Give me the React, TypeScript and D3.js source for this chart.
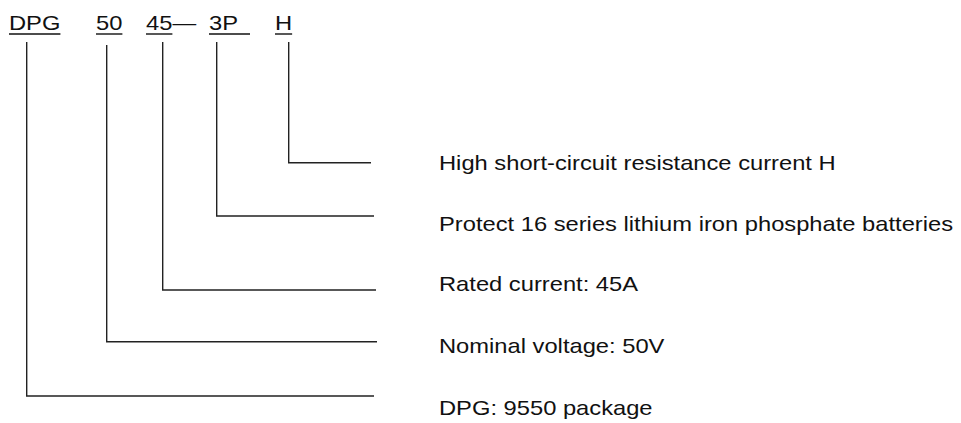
import React from "react";
import * as d3 from "d3";

const codes = ["DPG", "50", "45", "3P", "H"];
const codeText = ["DPG", "50", "45—", "3P", "H"];
const underlineEm = [2.167, 1.112, 1.112, 1.779, 0.722];
const descriptions = [
  "DPG: 9550 package",
  "Nominal voltage: 50V",
  "Rated current: 45A",
  "Protect 16 series lithium iron phosphate batteries",
  "High short-circuit resistance current H",
];

const W = 961;
const H = 423;
const FONT = "'Liberation Sans', Arial, Helvetica, sans-serif";
const FS = 21;
const SX = 1.13;

// layout
const codeX = [9, 96, 146, 209, 275];
const stemX = [26.7, 106.7, 162.7, 216.7, 288.7];
const stemTop = [42, 45, 42, 42, 42];
const rowY = [396, 341.7, 290, 216, 162.7];
const rowEnd = [374, 377, 376, 374, 371];
const descY = [415, 353, 291, 231, 170];

export default function App() {
  const em = FS * SX;
  const yRows = d3.scaleLinear().domain([0, 1]).range([0, 1]);
  return (
    <svg width={W} height={H} style={{ position: "absolute", left: 0, top: 0, background: "#fff" }}>
      <rect x={0} y={0} width={W} height={H} fill="#fff" />
      {codes.map((c, i) => (
        <g key={c}>
          <text
            transform={`translate(${codeX[i]},30) scale(${SX},1)`}
            fontFamily={FONT}
            fontSize={FS}
            fill="#111"
          >
            {codeText[i]}
          </text>
          <line
            x1={codeX[i]}
            x2={codeX[i] + (i === 3 ? 41 : underlineEm[i] * em)}
            y1={34}
            y2={34}
            stroke="#111"
            strokeWidth={1.4}
          />
          <path
            d={`M${stemX[i]},${stemTop[i]}V${yRows(rowY[i])}H${rowEnd[i]}`}
            fill="none"
            stroke="#222"
            strokeWidth={1.4}
          />
          <text
            transform={`translate(439,${descY[i]}) scale(${SX},1)`}
            fontFamily={FONT}
            fontSize={FS}
            fill="#111"
          >
            {descriptions[i]}
          </text>
        </g>
      ))}
    </svg>
  );
}
